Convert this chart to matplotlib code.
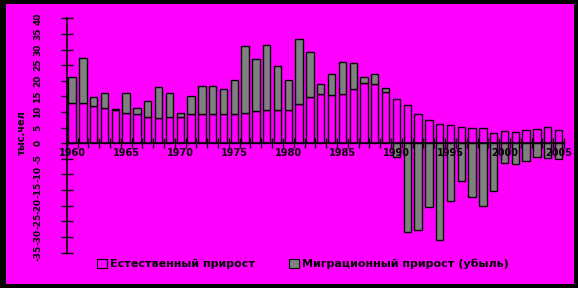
import matplotlib
matplotlib.use("Agg")
import matplotlib.pyplot as plt
import numpy as np
from matplotlib import font_manager
from matplotlib.patches import Patch

# --- data (thousand people) ---
years = list(range(1960, 2006))
natural = [12.8, 12.8, 12.0, 11.2, 10.6, 9.6, 9.2, 8.5, 8.0, 8.3,
           8.3, 9.2, 9.2, 9.2, 9.2, 9.2, 9.6, 10.2, 10.6, 10.6,
           10.6, 12.5, 14.7, 15.7, 15.4, 15.7, 17.3, 19.2, 18.9, 16.3,
           14.1, 12.2, 9.3, 7.4, 6.1, 5.8, 5.1, 4.8, 4.8, 3.2,
           3.8, 3.5, 4.2, 4.5, 5.1, 4.2]
migration = [8.3, 14.4, 2.7, 4.8, 0.3, 6.4, 2.0, 4.9, 9.9, 7.7,
             1.3, 5.8, 9.0, 9.0, 8.1, 11.0, 21.4, 16.7, 20.8, 14.0,
             9.6, 20.8, 14.4, 3.2, 6.7, 10.2, 8.3, 1.9, 3.2, 1.3,
             -4.5, -28.5, -27.8, -20.5, -31.0, -18.6, -12.2, -17.3, -20.2, -15.4,
             -6.4, -6.7, -5.8, -4.5, -4.8, -5.1]
year_labels = [1960, 1965, 1970, 1975, 1980, 1985, 1990, 1995, 2000, 2005]
y_ticks = list(range(-35, 45, 5))
label_natural = "Естественный прирост"
label_migration = "Миграционный прирост (убыль)"
y_title = "тыс.чел"

MAGENTA = "#ff00ff"
GRAY = "#808080"
W, H = 578, 288

# narrow font for the rotated y labels, if available
names = {f.name for f in font_manager.fontManager.ttflist}
narrow = "Liberation Sans Narrow" if "Liberation Sans Narrow" in names else "DejaVu Sans"

fig = plt.figure(figsize=(W / 100, H / 100), dpi=100, facecolor="black")
# magenta inner panel inside black frame
bg = fig.add_axes([6 / W, 1 - 284 / H, (574 - 6) / W, (284 - 4) / H], zorder=0)
bg.set_facecolor(MAGENTA)
bg.set_xticks([])
bg.set_yticks([])
for s in bg.spines.values():
    s.set_visible(False)

ax = fig.add_axes([66.7 / W, 1 - 252.5 / H, (564 - 66.7) / W, (252.5 - 18.3) / H],
                  zorder=1)
ax.set_facecolor("none")

x = np.arange(len(years))
nat = np.array(natural)
mig = np.array(migration)
mig_bottom = np.where(mig > 0, nat, 0.0)

bw = 0.68
ax.bar(x, nat, width=bw, color=MAGENTA, edgecolor="black", linewidth=1.0, zorder=2)
ax.bar(x, mig, width=bw, bottom=mig_bottom, color=GRAY, edgecolor="black",
       linewidth=1.0, zorder=2)

ax.set_xlim(-0.5, len(years) - 0.5)
ax.set_ylim(-35, 40)

for s in ["top", "right"]:
    ax.spines[s].set_visible(False)
ax.spines["left"].set_linewidth(1.2)
ax.spines["bottom"].set_position(("data", 0))
ax.spines["bottom"].set_linewidth(1.2)
ax.spines["bottom"].set_zorder(3)

ax.set_xticks(np.arange(-0.5, len(years), 1.0))
ax.set_xticklabels([])
ax.tick_params(axis="x", direction="inout", length=7, width=1, colors="black")

ax.set_yticks(y_ticks)
ax.set_yticklabels([str(v) for v in y_ticks], rotation=90, va="center",
                   fontsize=6.5, fontweight="bold", family=narrow)
ax.tick_params(axis="y", direction="inout", length=9, width=1, pad=13)

for yr in year_labels:
    ax.text(years.index(yr), -1.6, str(yr), ha="center", va="top",
            fontsize=7, fontweight="bold", zorder=4)

fig.text(22 / W, 1 - 133 / H, y_title, rotation=90, ha="center", va="center",
         fontsize=7, fontweight="bold")

handles = [Patch(facecolor=MAGENTA, edgecolor="black", linewidth=0.8),
           Patch(facecolor=GRAY, edgecolor="black", linewidth=0.8)]
leg = fig.legend(handles, [label_natural, label_migration], loc="center",
                 bbox_to_anchor=(303 / W, 1 - 264 / H), ncol=2, frameon=False,
                 handlelength=0.9, handleheight=0.9, handletextpad=0.3,
                 columnspacing=3.0, prop={"size": 8, "weight": "bold"})

fig.savefig("out.png", dpi=100, facecolor="black")
